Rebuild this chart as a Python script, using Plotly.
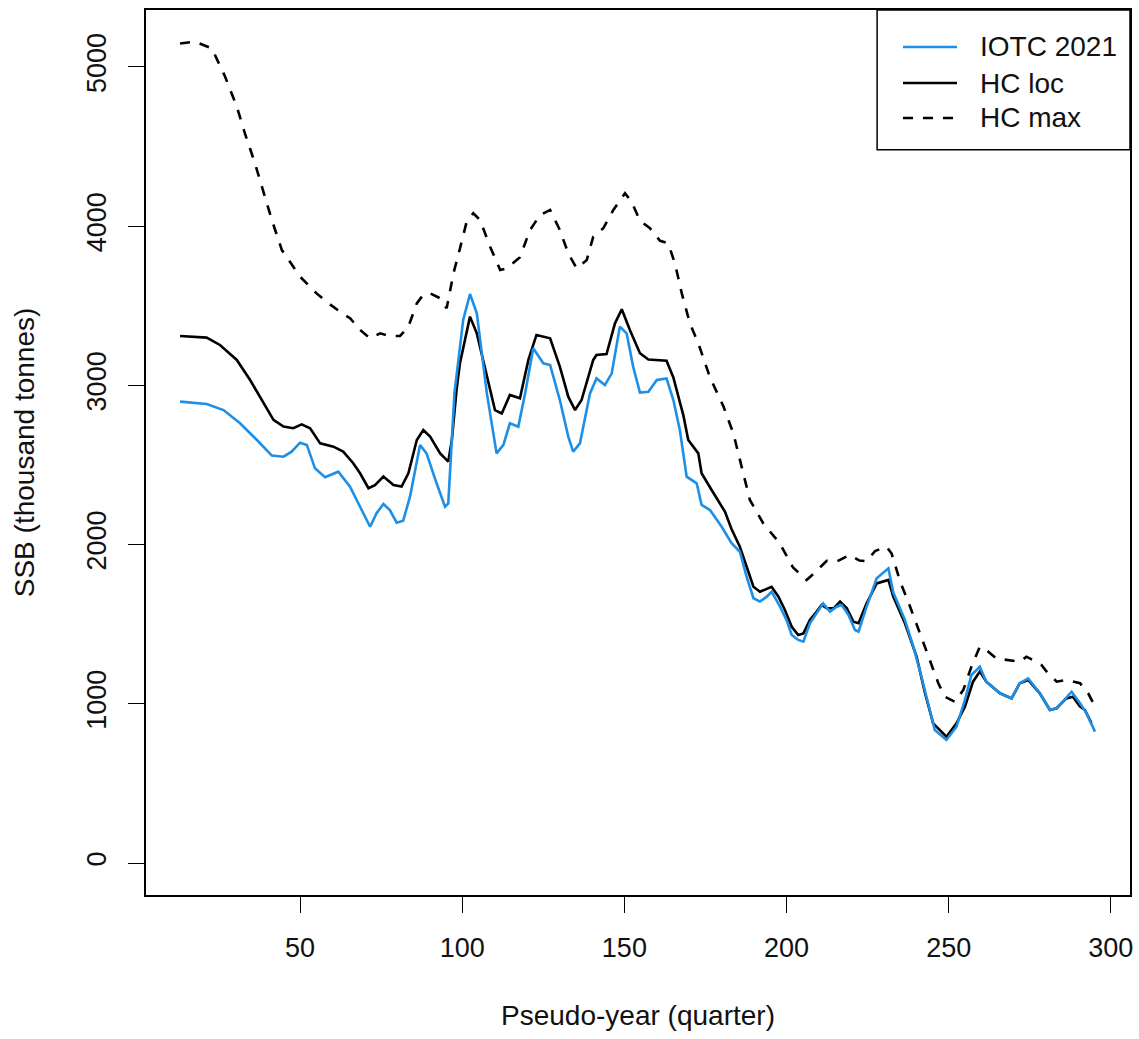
import plotly.graph_objects as go

# Pseudo-year (quarter) positions and SSB (thousand tonnes) for each run

iotc_x = [13.0, 17.0, 21.2, 26.4, 31.5, 36.7, 41.3, 44.9, 47.4, 50.0, 52.1, 54.6, 57.7,
          61.8, 65.4, 68.5, 71.6, 73.6, 75.7, 77.7, 79.8, 81.8, 83.9, 87.0, 89.0, 92.1,
          94.7, 95.7, 97.6, 100.3, 102.4, 104.5, 107.6, 110.6, 112.7, 114.7, 117.3, 119.4,
          121.9, 125.0, 127.1, 130.1, 132.7, 134.2, 136.3, 139.4, 141.4, 144.0, 146.1,
          148.6, 150.7, 152.7, 154.8, 157.4, 160.0, 163.0, 165.1, 167.1, 169.2, 172.3,
          173.8, 176.4, 180.0, 183.0, 185.6, 187.7, 189.8, 191.8, 193.9, 195.4, 198.0,
          200.0, 201.6, 203.6, 205.2, 207.2, 209.8, 211.3, 213.4, 215.5, 217.0, 219.1,
          221.1, 222.2, 224.7, 227.8, 231.4, 232.9, 236.5, 239.1, 241.6, 243.7, 245.7,
          249.3, 252.4, 255.0, 257.0, 259.6, 261.6, 265.8, 269.4, 271.9, 274.5, 278.1,
          281.2, 283.3, 287.9, 290.5, 292.5, 295.1]
iotc_ssb = [2898, 2890, 2883, 2845, 2762, 2657, 2559, 2552, 2584, 2640, 2626, 2479, 2423,
            2458, 2364, 2238, 2112, 2197, 2255, 2217, 2138, 2150, 2301, 2626, 2573, 2385,
            2238, 2259, 2950, 3411, 3574, 3453, 2950, 2573, 2626, 2762, 2741, 2950,
            3233, 3139, 3128, 2908, 2678, 2584, 2636, 2950, 3044, 3002, 3076,
            3369, 3327, 3118, 2955, 2960, 3034, 3044, 2908, 2720, 2427, 2385,
            2249, 2217, 2112, 2010, 1955, 1798, 1663, 1642, 1673, 1704, 1610,
            1526, 1432, 1401, 1390, 1506, 1589, 1631, 1579, 1610, 1621, 1558,
            1464, 1453, 1610, 1788, 1851, 1700, 1526, 1359, 1170, 1003, 835,
            773, 856, 1024, 1181, 1233, 1139, 1066, 1034, 1129, 1160, 1066,
            961, 972, 1076, 1003, 940, 825]

hcloc_x = [13.0, 17.0, 21.2, 25.3, 30.5, 34.6, 38.7, 41.8, 44.9, 47.9, 50.5, 53.1, 56.2,
           60.3, 63.3, 66.4, 68.5, 71.1, 73.1, 75.7, 78.8, 81.3, 83.4, 86.0, 88.0, 90.1,
           93.2, 95.7, 96.8, 98.3, 99.3, 102.4, 104.5, 107.6, 110.1, 112.2, 114.7, 117.8,
           120.4, 122.9, 127.1, 130.1, 132.7, 134.8, 136.8, 140.4, 141.4, 144.5, 147.1,
           149.2, 151.7, 154.8, 157.4, 163.0, 165.1, 168.2, 169.7, 172.8, 173.8, 176.9,
           181.0, 183.0, 185.6, 187.7, 189.8, 191.8, 193.9, 195.4, 197.5, 199.5, 201.6,
           203.6, 205.2, 207.2, 209.3, 210.8, 212.4, 214.5, 216.5, 218.6, 220.6, 222.2,
           224.7, 227.8, 231.4, 232.9, 236.5, 240.1, 242.7, 245.2, 249.3, 252.4, 255.0,
           257.5, 259.6, 261.6, 265.8, 269.4, 271.9, 274.5, 278.1, 281.2, 283.3, 286.2,
           288.3, 290.5, 292.0, 294.0]
hcloc_ssb = [3310, 3305, 3300, 3254, 3160, 3034, 2888, 2783, 2741, 2731, 2755, 2731, 2636,
             2615, 2584, 2511, 2448, 2354, 2374, 2427, 2374, 2364, 2448, 2657, 2720, 2678,
             2573, 2521, 2657, 2980, 3139, 3432, 3327, 3055, 2845, 2824, 2940, 2919,
             3160, 3317, 3296, 3118, 2929, 2845, 2908, 3160, 3191, 3197, 3390,
             3478, 3348, 3202, 3163, 3155, 3050, 2810, 2657, 2573, 2448, 2343,
             2207, 2100, 1987, 1861, 1735, 1704, 1725, 1735, 1673, 1589, 1484,
             1432, 1442, 1526, 1579, 1621, 1600, 1600, 1642, 1600, 1516, 1506,
             1631, 1756, 1778, 1673, 1506, 1296, 1066, 877, 793, 877, 982,
             1139, 1202, 1139, 1066, 1034, 1129, 1150, 1066, 961, 972, 1034,
             1045, 982, 961, 880]

hcmax_x = [13.0, 17.6, 22.8, 26.9, 30.5, 33.0, 36.1, 38.7, 41.3, 44.4, 50.0, 55.1, 58.5,
           62.3, 65.5, 68.5, 71.6, 74.7, 77.5, 80.8, 83.4, 86.0, 88.0, 90.1, 93.2, 95.2,
           97.3, 99.3, 101.4, 103.4, 105.5, 108.6, 111.7, 113.7, 117.8, 120.9, 124.0,
           127.1, 130.1, 132.7, 135.3, 138.4, 140.4, 143.5, 146.6, 150.2, 152.2, 154.8,
           157.9, 161.0, 163.5, 165.6, 167.7, 170.2, 172.8, 176.4, 180.5, 183.6, 186.6,
           188.7, 192.8, 197.9, 202.0, 206.2, 208.2, 212.4, 215.4, 219.5, 222.5, 224.7,
           227.3, 230.8, 232.4, 235.0, 238.1, 241.2, 244.2, 246.8, 248.8, 251.9, 254.5,
           257.0, 259.6, 261.6, 264.7, 267.8, 271.9, 274.0, 278.6, 280.2, 283.3, 286.4,
           290.5, 293.0, 295.4]
hcmax_ssb = [5148, 5159, 5117, 4939, 4751, 4583, 4395, 4217, 4039, 3850, 3683, 3578, 3520,
             3463, 3420, 3348, 3296, 3327, 3310, 3310, 3369, 3515, 3570, 3578, 3547, 3484,
             3704, 3860, 4030, 4081, 4039, 3871, 3725, 3735, 3805, 3976, 4070,
             4102, 3976, 3829, 3735, 3788, 3934, 3987, 4102, 4207, 4154, 4035,
             3987, 3908, 3892, 3766, 3578, 3390, 3264, 3050, 2870, 2699, 2458,
             2280, 2134, 2008, 1856, 1778, 1815, 1898, 1893, 1935, 1900, 1895,
             1960, 1987, 1944, 1770, 1610, 1442, 1275, 1129, 1045, 1013, 1087,
             1233, 1359, 1338, 1285, 1275, 1264, 1296, 1244, 1202, 1139, 1150,
             1129, 1066, 972]

x_ticks = [50, 100, 150, 200, 250, 300]
y_ticks = [0, 1000, 2000, 3000, 4000, 5000]

FONT = "Liberation Sans, Arial, sans-serif"
TEXT = "#111"
BLUE = "#1E8FE6"
LW = 2.6
DASH = "10px,10px"

# series drawn back to front; the key lists them top to bottom in reverse
series = [
    ("HC max", hcmax_x, hcmax_ssb, "black", DASH),
    ("HC loc", hcloc_x, hcloc_ssb, "black", "solid"),
    ("IOTC 2021", iotc_x, iotc_ssb, BLUE, "solid"),
]

fig = go.Figure()
for name, xs, ys, col, dash in series:
    fig.add_trace(go.Scatter(x=xs, y=ys, mode="lines", name=name,
                             showlegend=False,
                             line=dict(color=col, width=LW, dash=dash)))

# boxed key in the top-right corner (paper coordinates of the plot area)
key_x0, key_x1, key_y0, key_y1 = 0.743, 1.0, 0.842, 1.0
sample_x0, sample_x1, label_x = 0.7693, 0.8242, 0.8455
row_y = [0.9582, 0.9175, 0.8780]

shapes = [dict(type="rect", xref="paper", yref="paper",
               x0=key_x0, x1=key_x1, y0=key_y0, y1=key_y1,
               line=dict(color="black", width=1.5), fillcolor="white", layer="above")]
annotations = []
for (name, _, _, col, dash), ry in zip(reversed(series), row_y):
    shapes.append(dict(type="line", xref="paper", yref="paper",
                       x0=sample_x0, x1=sample_x1, y0=ry, y1=ry, layer="above",
                       line=dict(color=col, width=LW, dash=dash)))
    annotations.append(dict(xref="paper", yref="paper", x=label_x, y=ry,
                            xanchor="left", yanchor="middle", showarrow=False,
                            text=name, font=dict(family=FONT, size=28, color=TEXT)))

axis_common = dict(
    showgrid=False, zeroline=False,
    showline=True, mirror=True, linecolor="black", linewidth=1.5,
    ticks="outside", ticklen=16, tickwidth=1.3, tickcolor="black",
    tickfont=dict(family=FONT, size=27, color=TEXT),
    automargin=False,
)

fig.update_layout(
    width=1139, height=1039,
    margin=dict(l=146, r=9, t=10, b=144),
    paper_bgcolor="white", plot_bgcolor="white",
    font=dict(family=FONT, color=TEXT),
    xaxis=dict(range=[2.5, 305.9], tickvals=x_ticks,
               ticktext=[str(v) for v in x_ticks],
               ticklabelstandoff=12,
               title=dict(text="Pseudo-year (quarter)", standoff=43,
                          font=dict(family=FONT, size=28, color=TEXT)),
               **axis_common),
    yaxis=dict(range=[-201, 5358], tickvals=y_ticks,
               ticktext=[str(v) for v in y_ticks], tickangle=-90,
               ticklabelstandoff=11,
               title=dict(text="SSB (thousand tonnes)", standoff=40,
                          font=dict(family=FONT, size=28, color=TEXT)),
               **axis_common),
    shapes=shapes,
    annotations=annotations,
    showlegend=False,
)

fig.write_html("out.html")
